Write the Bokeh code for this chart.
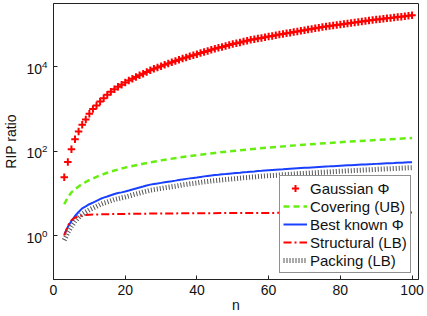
from bokeh.plotting import figure
from bokeh.models import Range1d, FixedTicker, Legend, LegendItem
from bokeh.embed import file_html
from bokeh.resources import INLINE

n_vals = list(range(3, 101))

gaussian = [24, 55, 110, 190, 290, 420, 560, 760, 980, 1200,
            1480, 1780, 2140, 2510, 2880, 3310, 3720, 4170, 4680, 5130,
            5620, 6170, 6760, 7410, 8100, 8800, 9500, 10200, 11000, 11800,
            12600, 13500, 14400, 15400, 16400, 17400, 18500, 19600, 20800, 22000,
            23400, 24800, 26200, 27700, 29100, 30600, 32200, 33900, 35500, 37200,
            38900, 40700, 42700, 44300, 45900, 47500, 49300, 51100, 53000, 54800,
            56900, 58900, 61000, 63100, 65300, 67600, 70000, 72400, 74800, 77300,
            80000, 82600, 85500, 88300, 91200, 93800, 96400, 99100, 101900, 104700,
            107400, 110400, 113500, 116700, 119700, 123000, 125900, 128800, 131800, 134900,
            138000, 141300, 144500, 147900, 151400, 154900, 158500, 162200]

best_known = [1.05, 1.6, 2.2, 2.9, 3.6, 4.4, 4.9, 5.5, 6.0, 6.6,
              7.3, 7.9, 8.4, 9.0, 9.6, 10.1, 10.5, 11.0, 11.6, 12.3,
              13.0, 13.7, 14.4, 15.2, 16.0, 16.5, 17.0, 17.6, 18.2, 18.8,
              19.3, 19.9, 20.6, 21.3, 21.9, 22.5, 23.1, 23.7, 24.4, 25.1,
              25.7, 26.3, 26.9, 27.4, 28.0, 28.5, 29.1, 29.6, 30.2, 30.7,
              31.3, 31.8, 32.4, 32.9, 33.5, 34.0, 34.6, 35.1, 35.6, 36.1,
              36.6, 37.0, 37.5, 38.0, 38.5, 39.0, 39.5, 40.0, 40.4, 40.9,
              41.4, 41.9, 42.4, 42.9, 43.3, 43.8, 44.3, 44.8, 45.3, 45.8,
              46.2, 46.7, 47.2, 47.7, 48.2, 48.7, 49.1, 49.6, 50.1, 50.6,
              51.1, 51.6, 52.0, 52.5, 53.0, 53.5, 54.0, 54.5]

packing = [0.78, 1.18, 1.63, 2.15, 2.66, 3.2, 3.6, 4.05, 4.45, 4.9,
           5.4, 5.85, 6.2, 6.65, 7.1, 7.45, 7.8, 8.15, 8.6, 9.1,
           9.6, 10.1, 10.7, 11.2, 11.8, 12.2, 12.6, 13.0, 13.5, 13.9,
           14.3, 14.7, 15.2, 15.8, 16.2, 16.7, 17.1, 17.5, 18.1, 18.6,
           19.0, 19.5, 19.9, 20.3, 20.7, 21.1, 21.5, 21.9, 22.3, 22.7,
           23.2, 23.5, 24.0, 24.3, 24.8, 25.2, 25.6, 26.0, 26.3, 26.7,
           27.1, 27.4, 27.8, 28.1, 28.5, 28.9, 29.2, 29.6, 29.9, 30.3,
           30.6, 31.0, 31.4, 31.7, 32.0, 32.4, 32.8, 33.2, 33.5, 33.9,
           34.2, 34.6, 34.9, 35.3, 35.7, 36.0, 36.3, 36.7, 37.1, 37.4,
           37.8, 38.2, 38.5, 38.9, 39.2, 39.6, 40.0, 40.3]

n_cover = [3, 4, 5, 6, 7, 8, 9, 10, 12, 14, 16, 18, 20, 25, 30, 35, 40, 45, 50, 60, 70, 80, 90, 100]
covering = [5.5, 8, 10.5, 12.5, 14.5, 16.5, 18.5, 20.5, 24.5, 28.5, 32.5, 36.5, 40.5,
            50, 60, 70, 80, 90, 100, 121, 141, 162, 182, 203]

n_struct = [3, 4, 5, 6, 7, 8, 9, 10, 12, 15, 20, 25, 30, 40, 50, 60, 70, 80, 90, 100]
structural = [1.0, 1.7, 2.3, 2.65, 2.85, 2.98, 3.05, 3.1, 3.15, 3.2, 3.25, 3.29, 3.32,
              3.37, 3.4, 3.43, 3.45, 3.47, 3.49, 3.5]

x_ticks = [0, 20, 40, 60, 80, 100]
y_ticks = [1, 100, 10000]
labels = ["Gaussian \u03a6", "Covering (UB)", "Best known \u03a6", "Structural (LB)", "Packing (LB)"]

FONT = "Liberation Sans"
AX = "#222222"

p = figure(width=427, height=316, y_axis_type="log",
           x_range=Range1d(0, 101.8), y_range=Range1d(10 ** -1.041, 10 ** 5.491),
           output_backend="svg", toolbar_location=None,
           min_border_left=53, min_border_right=9, min_border_top=3, min_border_bottom=37)
p.grid.visible = False
p.outline_line_color = AX
p.outline_line_width = 1
p.background_fill_color = "white"
p.border_fill_color = "white"

r_g = p.scatter(n_vals, gaussian, marker="cross", size=7.5, line_width=2, color="#ff0000")
r_c = p.line(n_cover, covering, line_color="#66ee11", line_width=2.5, line_dash="6 4")
r_b = p.line(n_vals, best_known, line_color="#1a40ff", line_width=2)
r_s = p.line(n_struct, structural, line_color="#ff0000", line_width=2, line_dash="8 3 2 3")
r_p = p.line(n_vals, packing, line_color="#555555", line_width=5, line_dash="1 2")

xax = p.below[0]
yax = p.left[0]
for ax in (xax, yax):
    ax.major_tick_in = 4
    ax.major_tick_out = 0
    ax.minor_tick_in = 0
    ax.minor_tick_out = 0
    ax.axis_line_color = AX
    ax.major_tick_line_color = AX
    ax.major_label_text_font = FONT
    ax.major_label_text_font_size = "14px"
    ax.major_label_text_color = "#111111"
    ax.axis_label_text_font = FONT
    ax.axis_label_text_font_size = "14px"
    ax.axis_label_text_font_style = "normal"
    ax.axis_label_text_color = "#111111"

xax.ticker = FixedTicker(ticks=x_ticks)
yax.ticker = FixedTicker(ticks=y_ticks)
xax.axis_label = "n"
yax.axis_label = "RIP ratio"
xax.major_label_standoff = 5
xax.axis_label_standoff = -1
yax.major_label_standoff = 6
yax.axis_label_standoff = 4

legend = Legend(items=[LegendItem(label=labels[0], renderers=[r_g]),
                       LegendItem(label=labels[1], renderers=[r_c]),
                       LegendItem(label=labels[2], renderers=[r_b]),
                       LegendItem(label=labels[3], renderers=[r_s]),
                       LegendItem(label=labels[4], renderers=[r_p])],
                location=(226, 6))
legend.label_text_font = FONT
legend.label_text_font_size = "15px"
legend.label_text_color = "#111111"
legend.label_height = 18
legend.glyph_height = 18
legend.glyph_width = 24
legend.spacing = 0
legend.padding = 3
legend.margin = 0
legend.label_standoff = 3
legend.border_line_color = AX
legend.border_line_width = 1
legend.background_fill_alpha = 1
p.add_layout(legend)

open("out.html", "w").write(file_html(p, INLINE))
